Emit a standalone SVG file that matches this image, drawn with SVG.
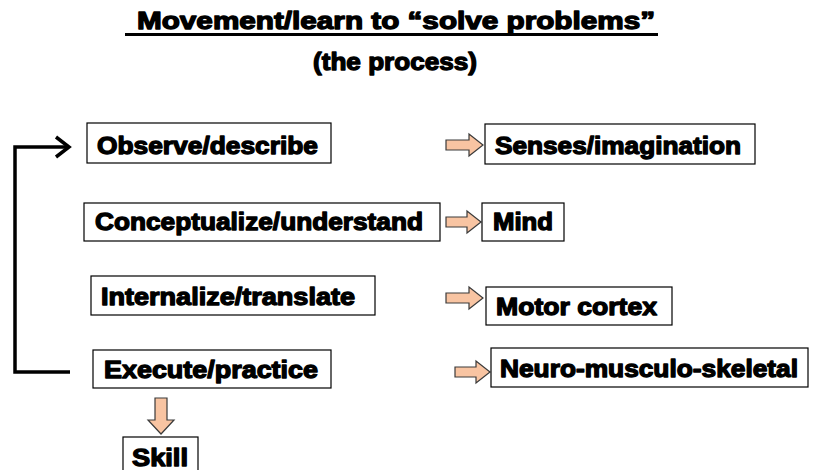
<svg xmlns="http://www.w3.org/2000/svg" width="813" height="470" viewBox="0 0 813 470">
<style>
.t{font-family:"Liberation Sans",Arial,sans-serif;font-weight:bold;font-size:24px;fill:#000;stroke:#000;stroke-width:1.3;stroke-linejoin:round}
.box{fill:#fff;stroke:#000;stroke-width:1.2}
.ba{fill:#f8c4a2;stroke:#3a3a3a;stroke-width:1.2;stroke-linejoin:miter}
.loop{fill:none;stroke:#000;stroke-width:3.5}
</style>
<rect width="813" height="470" fill="#fff"/>
<g id="title">
<text class="t" x="137" y="29" font-size="26" textLength="518" lengthAdjust="spacingAndGlyphs">Movement/learn to “solve problems”</text>
<line x1="125" y1="34.5" x2="658" y2="34.5" stroke="#000" stroke-width="3"/>
<text class="t" x="313" y="70" textLength="164" lengthAdjust="spacingAndGlyphs">(the process)</text>
</g>
<g id="connectors">
<path class="loop" d="M70,372 H15 V147 H68"/>
<path class="loop" d="M56,137 L69,147 L56,157"/>
<path class="ba" d="M446,140 H469 V134 L483,145 L469,156 V150 H446 Z"/>
<path class="ba" d="M446,217 H467 V211 L481,222 L467,233 V227 H446 Z"/>
<path class="ba" d="M446,293 H469 V287 L483,298 L469,309 V303 H446 Z"/>
<path class="ba" d="M455,367 H476 V361 L490,372 L476,383 V377 H455 Z"/>
<path class="ba" d="M155,398 H167 V420 H174 L161,434 L148,420 H155 Z"/>
</g>
<g id="observe">
<rect class="box" x="87" y="123" width="244" height="40"/>
<text class="t" x="97" y="154" textLength="221" lengthAdjust="spacingAndGlyphs">Observe/describe</text>
</g>
<g id="senses">
<rect class="box" x="485" y="124" width="270" height="40"/>
<text class="t" x="495" y="154" textLength="246" lengthAdjust="spacingAndGlyphs">Senses/imagination</text>
</g>
<g id="conceptualize">
<rect class="box" x="84" y="203" width="356" height="38"/>
<text class="t" x="95" y="230" textLength="328" lengthAdjust="spacingAndGlyphs">Conceptualize/understand</text>
</g>
<g id="mind">
<rect class="box" x="482" y="203" width="82" height="38"/>
<text class="t" x="493" y="230" textLength="60" lengthAdjust="spacingAndGlyphs">Mind</text>
</g>
<g id="internalize">
<rect class="box" x="91" y="276" width="284" height="39"/>
<text class="t" x="101" y="305" textLength="254" lengthAdjust="spacingAndGlyphs">Internalize/translate</text>
</g>
<g id="motor">
<rect class="box" x="486" y="287" width="186" height="38"/>
<text class="t" x="496" y="315" textLength="161" lengthAdjust="spacingAndGlyphs">Motor cortex</text>
</g>
<g id="execute">
<rect class="box" x="93" y="350" width="238" height="38"/>
<text class="t" x="104" y="378" textLength="214" lengthAdjust="spacingAndGlyphs">Execute/practice</text>
</g>
<g id="neuro">
<rect class="box" x="491" y="348" width="317" height="39"/>
<text class="t" x="500" y="377" textLength="298" lengthAdjust="spacingAndGlyphs">Neuro-musculo-skeletal</text>
</g>
<g id="skill">
<rect class="box" x="123" y="437" width="75" height="40"/>
<text class="t" x="132" y="466" textLength="56" lengthAdjust="spacingAndGlyphs">Skill</text>
</g>
</svg>
